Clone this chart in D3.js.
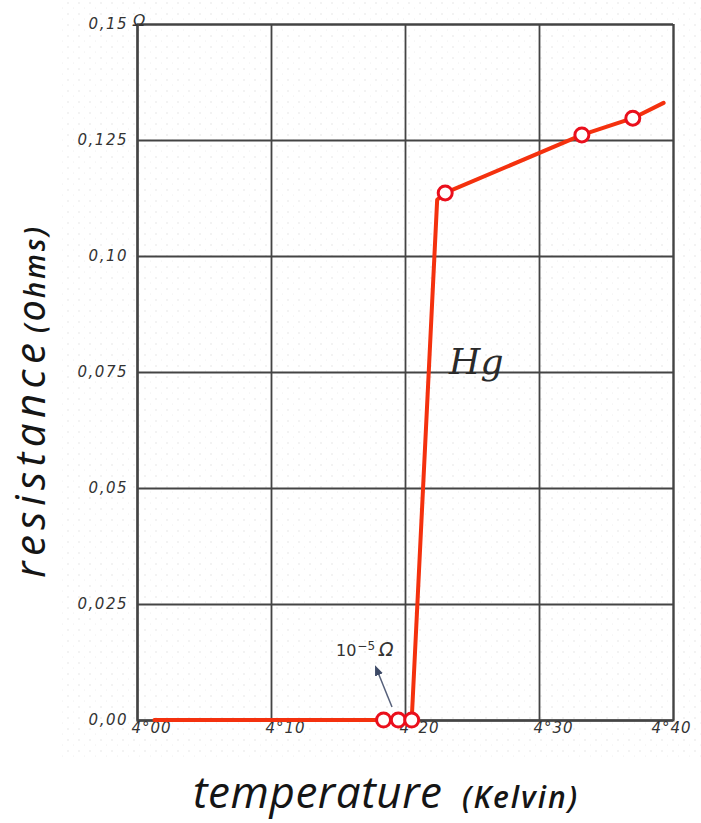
<!DOCTYPE html>
<html>
<head>
<meta charset="utf-8">
<script src="https://cdn.jsdelivr.net/npm/d3@7"></script>
<style>
  html, body { margin: 0; padding: 0; background: #ffffff; }
  svg { display: block; }
</style>
</head>
<body>
<svg id="chart" width="701" height="823"></svg>
<script>
// ---- data ----
const temperatures = [4.013, 4.184, 4.195, 4.205, 4.224, 4.230, 4.332, 4.370, 4.393];
const resistances  = [0, 0, 0, 0, 0.1121, 0.1136, 0.1261, 0.1297, 0.1330];
const measured     = [false, true, true, true, false, true, true, true, false];

const xTickValues = [4.0, 4.1, 4.2, 4.3, 4.4];
const xTickLabels = ["4°00", "4°10", "4°20", "4°30", "4°40"];
const yTickValues = [0, 0.025, 0.05, 0.075, 0.10, 0.125, 0.15];
const yTickLabels = ["0,00", "0,025", "0,05", "0,075", "0,10", "0,125", "0,15"];

const xTitle = "temperature", xUnit = "(Kelvin)";
const yTitle = "resistance", yUnit = "(Ohms)";
const seriesLabel = "Hg";

// ---- layout ----
const svg = d3.select("#chart");
const W = 701, H = 823;
const m = { left: 137, top: 24, right: 28, bottom: 103 };
const iw = W - m.left - m.right, ih = H - m.top - m.bottom;

const x = d3.scaleLinear().domain([4.0, 4.4]).range([0, iw]);
const y = d3.scaleLinear().domain([0, 0.15]).range([ih, 0]);

// faint dotted paper background
const defs = svg.append("defs");
const pat = defs.append("pattern").attr("id", "dots").attr("width", 11).attr("height", 11)
  .attr("patternUnits", "userSpaceOnUse");
pat.append("circle").attr("cx", 2).attr("cy", 3).attr("r", 0.8).attr("fill", "#e3e3e3");
pat.append("circle").attr("cx", 7.5).attr("cy", 8).attr("r", 0.6).attr("fill", "#ececec");
svg.append("rect").attr("width", W).attr("height", H).attr("fill", "#fff");
svg.append("rect").attr("x", 60).attr("y", 0).attr("width", W - 60).attr("height", 760).attr("fill", "url(#dots)");

const g = svg.append("g").attr("transform", `translate(${m.left},${m.top})`);

const gridColor = "#444";
const labelFont = "'DejaVu Sans', sans-serif";

// y grid + labels
const yAxis = g.append("g").call(
  d3.axisLeft(y).tickValues(yTickValues).tickSize(-iw).tickPadding(9)
    .tickFormat((d, i) => yTickLabels[i])
);
yAxis.select(".domain").attr("stroke", gridColor).attr("stroke-width", 2);
yAxis.selectAll(".tick line").attr("stroke", gridColor).attr("stroke-width", 1.8);
yAxis.selectAll(".tick text")
  .attr("font-family", labelFont).attr("font-style", "italic")
  .attr("font-size", 15).attr("letter-spacing", 1.5).attr("fill", "#333");

// x grid + labels
const xAxis = g.append("g").attr("transform", `translate(0,${ih})`).call(
  d3.axisBottom(x).tickValues(xTickValues).tickSize(-ih).tickPadding(6)
    .tickFormat((d, i) => xTickLabels[i])
);
xAxis.select(".domain").attr("stroke", gridColor).attr("stroke-width", 2);
xAxis.selectAll(".tick line").attr("stroke", gridColor).attr("stroke-width", 1.8);
xAxis.selectAll(".tick text")
  .attr("font-family", labelFont).attr("font-style", "italic")
  .attr("font-size", 15).attr("letter-spacing", 1).attr("fill", "#333")
  .attr("text-anchor", "start")
  .attr("dx", (d, i) => i === xTickValues.length - 1 ? -22 : -6)
  .attr("dy", "0.45em");

// Ohm sign next to the top tick
g.append("text").attr("x", -4).attr("y", y(0.15) + 2)
  .attr("font-family", labelFont).attr("font-style", "italic")
  .attr("font-size", 16).attr("fill", "#333").text("Ω");

// data line
const pts = temperatures.map((t, i) => ({ t, r: resistances[i], m: measured[i] }));
g.append("path").datum(pts)
  .attr("fill", "none").attr("stroke", "#f4310e").attr("stroke-width", 4)
  .attr("stroke-linejoin", "round").attr("stroke-linecap", "round")
  .attr("d", d3.line().x(d => x(d.t)).y(d => y(d.r)));

// measurement circles
g.selectAll("circle.pt").data(pts.filter(d => d.m)).join("circle")
  .attr("class", "pt")
  .attr("cx", d => x(d.t)).attr("cy", d => y(d.r)).attr("r", 7)
  .attr("fill", "#fff").attr("stroke", "#ea0f1c").attr("stroke-width", 3);

// Hg label
g.append("text").attr("x", 449 - m.left).attr("y", 374 - m.top)
  .attr("font-family", "'DejaVu Serif', serif").attr("font-style", "italic")
  .attr("font-size", 36).attr("fill", "#2a2a2a").text(seriesLabel);

// 10^-5 Ω annotation with arrow
const ann = g.append("text").attr("x", 336 - m.left).attr("y", 656 - m.top)
  .attr("font-family", labelFont).attr("font-size", 16).attr("fill", "#333");
ann.append("tspan").text("10");
ann.append("tspan").attr("dy", -6).attr("font-size", 12).attr("dx", 1).text("−5");
ann.append("tspan").attr("dy", 6).attr("dx", 4).attr("font-size", 19).attr("font-style", "italic").text("Ω");

defs.append("marker").attr("id", "arrow").attr("viewBox", "0 0 10 10")
  .attr("refX", 5).attr("refY", 5).attr("markerWidth", 7).attr("markerHeight", 7)
  .attr("orient", "auto-start-reverse")
  .append("path").attr("d", "M0,1 L10,5 L0,9 z").attr("fill", "#3d4a66");
g.append("line")
  .attr("x1", 392 - m.left).attr("y1", 707 - m.top)
  .attr("x2", 377 - m.left).attr("y2", 670 - m.top)
  .attr("stroke", "#56607a").attr("stroke-width", 1.5)
  .attr("marker-end", "url(#arrow)");

// axis titles
const titleFont = "'Open Sans', sans-serif";
svg.append("text").attr("x", 193).attr("y", 808)
  .attr("font-family", titleFont).attr("font-style", "italic")
  .attr("font-size", 44).attr("fill", "#151515")
  .attr("textLength", 249).attr("lengthAdjust", "spacing").text(xTitle);
svg.append("text").attr("x", 462).attr("y", 808)
  .attr("font-family", titleFont).attr("font-style", "italic").attr("font-weight", 600)
  .attr("font-size", 30).attr("fill", "#151515")
  .attr("textLength", 115).attr("lengthAdjust", "spacing").text(xUnit);

svg.append("text").attr("transform", "translate(45,578) rotate(-90)")
  .attr("font-family", titleFont).attr("font-style", "italic")
  .attr("font-size", 42).attr("fill", "#151515")
  .attr("textLength", 235).attr("lengthAdjust", "spacing").text(yTitle);
svg.append("text").attr("transform", "translate(45,333) rotate(-90)")
  .attr("font-family", titleFont).attr("font-style", "italic").attr("font-weight", 600)
  .attr("font-size", 28).attr("fill", "#151515")
  .attr("textLength", 106).attr("lengthAdjust", "spacing").text(yUnit);
</script>
</body>
</html>
